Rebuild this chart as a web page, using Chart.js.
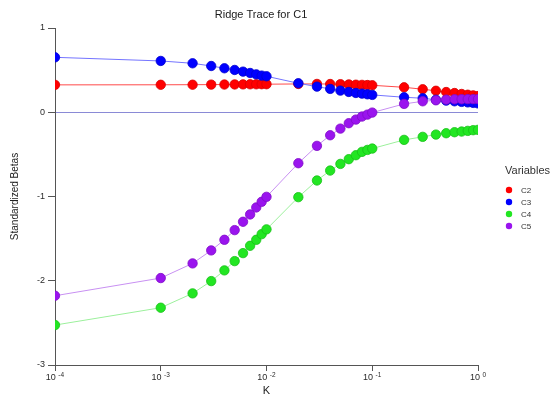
<!DOCTYPE html>
<html><head><meta charset="utf-8">
<script src="https://cdn.jsdelivr.net/npm/chart.js@4/dist/chart.umd.min.js"></script>
<style>html,body{margin:0;padding:0;background:#fff}</style>
</head><body>
<canvas id="c" width="551" height="400" style="display:block"></canvas>
<script>
const chartTitle = 'Ridge Trace for C1';
const xTitle = 'K';
const yTitle = 'Standardized Betas';
const legendTitle = 'Variables';
const seriesNames = ['C2', 'C3', 'C4', 'C5'];

const kValues = [0.0001, 0.001, 0.002, 0.003, 0.004, 0.005, 0.006, 0.007, 0.008, 0.009,
  0.01, 0.02, 0.03, 0.04, 0.05, 0.06, 0.07, 0.08, 0.09,
  0.1, 0.2, 0.3, 0.4, 0.5, 0.6, 0.7, 0.8, 0.9, 1.0];

const c2Values = [0.325, 0.326, 0.327, 0.328, 0.329, 0.330, 0.331, 0.332, 0.332, 0.333,
  0.333, 0.336, 0.336, 0.335, 0.333, 0.330, 0.327, 0.325, 0.323,
  0.320, 0.296, 0.273, 0.255, 0.240, 0.228, 0.217, 0.208, 0.200, 0.192];

const c3Values = [0.652, 0.609, 0.581, 0.549, 0.522, 0.502, 0.482, 0.466, 0.450, 0.435,
  0.427, 0.344, 0.304, 0.277, 0.257, 0.241, 0.229, 0.221, 0.213,
  0.206, 0.178, 0.166, 0.148, 0.138, 0.130, 0.123, 0.117, 0.111, 0.105];

const c4Values = [-2.526, -2.320, -2.150, -2.004, -1.877, -1.767, -1.672, -1.585, -1.514, -1.447,
  -1.390, -1.008, -0.810, -0.692, -0.613, -0.557, -0.510, -0.470, -0.447,
  -0.431, -0.328, -0.292, -0.265, -0.249, -0.237, -0.229, -0.221, -0.213, -0.209];

const c5Values = [-2.178, -1.968, -1.794, -1.640, -1.514, -1.399, -1.300, -1.213, -1.130, -1.063,
  -1.004, -0.605, -0.399, -0.273, -0.194, -0.130, -0.087, -0.051, -0.028,
  -0.004, 0.099, 0.130, 0.142, 0.150, 0.154, 0.155, 0.156, 0.156, 0.156];

const xTickValues = [0.0001, 0.001, 0.01, 0.1, 1];
const xTickBase = '10';
const xTickExponents = ['-4', '-3', '-2', '-1', '0'];
const yTickValues = [1, 0, -1, -2, -3];

const pointColors = ['#ff0000', '#0000ff', '#22e622', '#9a14ee'];
const pointBorders = ['#d80000', '#0000d0', '#18c018', '#800cc8'];
const lineColors = ['#ff4a4a', '#7474ff', '#9cf09c', '#c890f2'];
const zeroLineColor = '#8a8ad6';
const FONT = '"Liberation Sans", Arial, sans-serif';

const allValues = [c2Values, c3Values, c4Values, c5Values];
const datasets = allValues.map((vals, i) => ({
  label: seriesNames[i],
  data: kValues.map((k, j) => ({ x: k, y: vals[j] })),
  borderColor: lineColors[i],
  borderWidth: 1,
  backgroundColor: pointColors[i],
  pointBackgroundColor: pointColors[i],
  pointBorderColor: pointBorders[i],
  pointBorderWidth: 0.8,
  pointRadius: 4.7,
  tension: 0,
  fill: false,
  order: 4 - i
}));

const textPlugin = {
  id: 'textPlugin',
  afterDraw(chart) {
    const ctx = chart.ctx;
    const xs = chart.scales.x;
    ctx.save();
    // title
    ctx.fillStyle = '#1a1a1a';
    ctx.font = '11px ' + FONT;
    ctx.textAlign = 'center';
    ctx.textBaseline = 'middle';
    ctx.fillText(chartTitle, 261, 15);
    // x tick labels with superscripts
    ctx.fillStyle = '#2a2a2a';
    ctx.textBaseline = 'top';
    ctx.textAlign = 'left';
    xTickValues.forEach((v, i) => {
      const px = xs.getPixelForValue(v);
      ctx.font = '9px ' + FONT;
      const wb = ctx.measureText(xTickBase).width;
      ctx.font = '6.5px ' + FONT;
      const we = ctx.measureText(xTickExponents[i]).width;
      const total = wb + 2.5 + we;
      const start = px - total / 2;
      ctx.font = '9px ' + FONT;
      ctx.fillText(xTickBase, start, chart.chartArea.bottom + 8);
      ctx.font = '6.5px ' + FONT;
      ctx.fillText(xTickExponents[i], start + wb + 2.5, chart.chartArea.bottom + 7);
    });
    // legend
    ctx.fillStyle = '#333';
    ctx.font = '11px ' + FONT;
    ctx.textBaseline = 'middle';
    ctx.fillText(legendTitle, 505, 171);
    seriesNames.forEach((n, i) => {
      const y = 190 + i * 12;
      ctx.beginPath();
      ctx.arc(509, y, 3.2, 0, Math.PI * 2);
      ctx.fillStyle = pointColors[i];
      ctx.fill();
      ctx.fillStyle = '#333';
      ctx.font = '8px ' + FONT;
      ctx.fillText(n, 521, y + 0.5);
    });
    ctx.restore();
  }
};

new Chart(document.getElementById('c'), {
  type: 'line',
  data: { datasets },
  options: {
    responsive: false,
    animation: false,
    devicePixelRatio: 1,
    layout: { padding: { top: 28, right: 73, left: 0, bottom: 0 } },
    plugins: { legend: { display: false }, title: { display: false }, tooltip: { enabled: false } },
    scales: {
      x: {
        type: 'logarithmic', min: 0.0001, max: 1, position: 'bottom',
        afterBuildTicks: s => { s.ticks = xTickValues.map(v => ({ value: v })); },
        afterFit: s => { s.height = 35; },
        ticks: { display: false },
        grid: { drawOnChartArea: false, drawTicks: true, tickLength: 6, color: '#555', tickColor: '#555' },
        border: { display: true, color: '#555', width: 1 },
        title: { display: true, text: xTitle, font: { family: FONT, size: 11 }, color: '#222', padding: { top: 0, bottom: 2 } }
      },
      y: {
        type: 'linear', min: -3, max: 1,
        afterBuildTicks: s => { s.ticks = yTickValues.map(v => ({ value: v })); },
        afterFit: s => { s.width = 55; },
        ticks: { font: { family: FONT, size: 9 }, color: '#2a2a2a', padding: 3, callback: v => String(v) },
        grid: {
          drawOnChartArea: true, drawTicks: true, tickLength: 7,
          color: c => (c.tick && c.tick.value === 0 ? zeroLineColor : 'rgba(0,0,0,0)'),
          tickColor: '#555'
        },
        border: { display: true, color: '#555', width: 1 },
        title: { display: true, text: yTitle, font: { family: FONT, size: 10 }, color: '#222', padding: { top: 9, bottom: 0 } }
      }
    }
  },
  plugins: [textPlugin]
});
</script>
</body></html>
